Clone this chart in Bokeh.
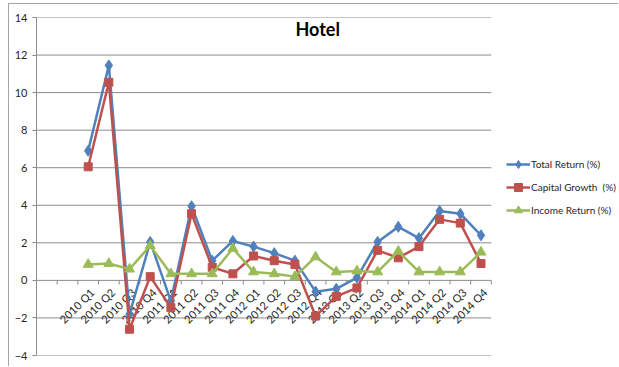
import math
from bokeh.plotting import figure
from bokeh.models import (Range1d, FixedTicker, Legend, LegendItem, Label)
from bokeh.core.properties import value
from bokeh.embed import file_html
from bokeh.resources import INLINE

# ---- data ----
quarters = ["2010 Q1", "2010 Q2", "2010 Q3", "2010 Q4",
            "2011 Q1", "2011 Q2", "2011 Q3", "2011 Q4",
            "2012 Q1", "2012 Q2", "2012 Q3", "2012 Q4",
            "2013 Q1", "2013 Q2", "2013 Q3", "2013 Q4",
            "2014 Q1", "2014 Q2", "2014 Q3", "2014 Q4"]
total_return = [6.9, 11.45, -1.8, 2.05, -1.1, 3.95, 1.05, 2.1, 1.8, 1.45,
                1.05, -0.6, -0.45, 0.15, 2.05, 2.85, 2.25, 3.7, 3.55, 2.4]
capital_growth = [6.05, 10.55, -2.6, 0.2, -1.45, 3.55, 0.7, 0.35, 1.3, 1.05,
                  0.85, -1.9, -0.85, -0.4, 1.6, 1.2, 1.8, 3.25, 3.05, 0.9]
income_return = [0.85, 0.9, 0.6, 1.85, 0.35, 0.35, 0.35, 1.7, 0.45, 0.35,
                 0.2, 1.25, 0.45, 0.5, 0.45, 1.55, 0.45, 0.45, 0.45, 1.5]
y_ticks = [-4, -2, 0, 2, 4, 6, 8, 10, 12, 14]
n_blank = 2  # empty leading categories on the axis

BLUE = "#4F81BD"
RED = "#C0504D"
GREEN = "#9BBB59"
GRID = "#8C8C8C"
TXT = "#262626"
FONT = "Lato"

n_cat = len(quarters) + n_blank
xs = [i + n_blank for i in range(len(quarters))]
x_lo, x_hi = -0.5, n_cat - 0.5

# frame spans to the right edge so the legend can sit beside the plot area
p = figure(width=610, height=363, output_backend="svg", toolbar_location=None,
           x_range=Range1d(x_lo, 27.7), y_range=Range1d(-4, 14),
           min_border_left=27, min_border_top=13, min_border_bottom=12,
           min_border_right=0)
p.styles = {"margin-left": "8px", "margin-top": "3px",
            "border-left": "1px solid #a6a6a6", "border-top": "1px solid #a6a6a6"}
p.outline_line_color = None
p.background_fill_color = "white"
p.border_fill_color = "white"

# axes
p.xaxis.visible = False
p.xgrid.visible = False
p.ygrid.visible = False
p.yaxis.ticker = FixedTicker(ticks=y_ticks)
p.yaxis.axis_line_color = GRID
p.yaxis.major_tick_line_color = GRID
p.yaxis.major_tick_out = 4
p.yaxis.major_tick_in = 0
p.yaxis.minor_tick_line_color = None
p.yaxis.major_label_text_font = FONT
p.yaxis.major_label_text_font_size = "11px"
p.yaxis.major_label_text_color = TXT
p.yaxis.major_label_standoff = 5

# horizontal gridlines limited to the category span
p.segment(x0=[x_lo] * len(y_ticks), y0=y_ticks, x1=[x_hi] * len(y_ticks),
          y1=y_ticks, line_color=GRID, line_width=1)

# category axis drawn at y = 0
bounds = [b - 0.5 for b in range(1, n_cat + 1)]
p.segment(x0=bounds, y0=[0] * len(bounds), x1=bounds, y1=[-0.22] * len(bounds),
          line_color=GRID, line_width=1)
p.text(x=xs, y=[0] * len(xs), text=quarters, angle=math.pi / 4,
       text_align="right", text_baseline="middle",
       text_font=value(FONT), text_font_size="11px", text_color=TXT,
       x_offset=4, y_offset=10)

# series
lw = 2.5
l1 = p.line(xs, total_return, line_color=BLUE, line_width=lw)
m1 = p.scatter(xs, total_return, marker="diamond", size=11, fill_color=BLUE,
               line_color=BLUE)
l2 = p.line(xs, capital_growth, line_color=RED, line_width=lw)
m2 = p.scatter(xs, capital_growth, marker="square", size=8, fill_color=RED,
               line_color=RED)
l3 = p.line(xs, income_return, line_color=GREEN, line_width=lw)
m3 = p.scatter(xs, income_return, marker="triangle", size=10, fill_color=GREEN,
               line_color=GREEN)

legend = Legend(items=[
    LegendItem(label="Total Return (%)", renderers=[l1, m1]),
    LegendItem(label="Capital Growth  (%)", renderers=[l2, m2]),
    LegendItem(label="Income Return (%)", renderers=[l3, m3]),
], location=(470, 135), orientation="vertical", padding=0, margin=0,
    spacing=3, glyph_width=24, glyph_height=20, label_height=20,
    label_standoff=1, border_line_color=None, background_fill_alpha=0,
    label_text_font=FONT, label_text_font_size="10px", label_text_color=TXT)
p.add_layout(legend)

title = Label(x=13.1, y=13.4, text="Hotel", text_align="center",
              text_baseline="middle", text_font=FONT, text_font_size="18px",
              text_font_style="bold", text_color="black")
p.add_layout(title)

open("out.html", "w").write(file_html(p, INLINE))
